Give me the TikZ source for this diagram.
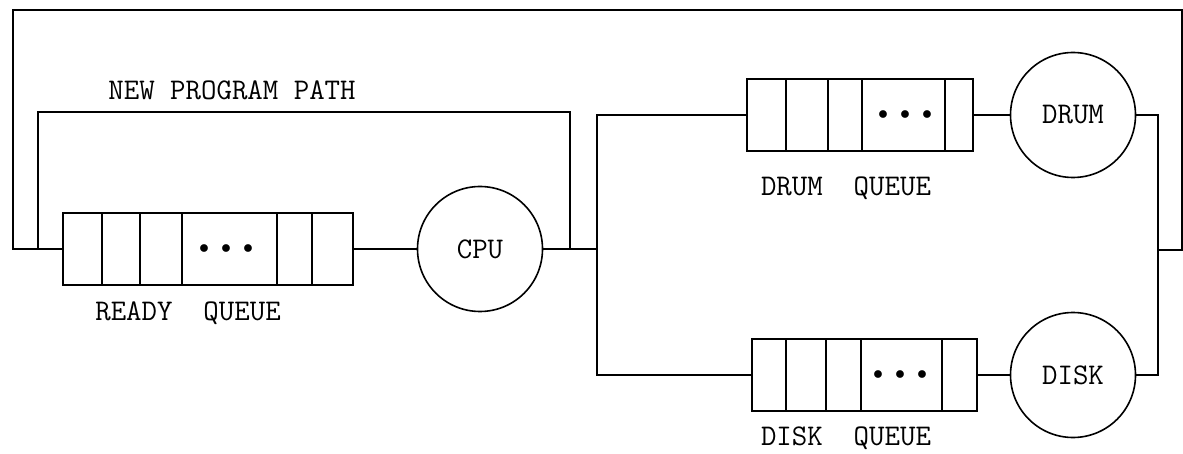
\documentclass[tikz,border=0pt]{standalone}
\usepackage{tikz}
\usetikzlibrary{shapes,positioning}
\tikzset{
  queue/.style={draw,line width=0.8pt,minimum height=36pt,inner sep=0pt},
  server/.style={draw,circle,line width=0.8pt,minimum size=62.5pt,inner sep=0pt,font=\ttfamily\fontsize{15}{17}\selectfont},
  lbl/.style={font=\ttfamily\fontsize{15}{17}\selectfont},
  dots/.style={font=\normalsize}
}
\newcommand{\qdots}{$\bullet$\hspace{6pt}$\bullet$\hspace{6pt}$\bullet$}
\begin{document}
\begin{tikzpicture}[x=0.5pt,y=-0.5pt,line width=0.8pt]
\useasboundingbox (0,0) rectangle (1183,454);
\node[queue,minimum width=145pt](rq) at (208,249){};
\foreach \d in {40,78,120,215,250}
  \draw([shift={(\d,0)}]rq.north west)--([shift={(\d,0)}]rq.south west);
\node[dots](rqd) at (226,249){\qdots};
\node[lbl](rql) at (188,313){READY~~QUEUE};
\node[server](cpu) at (480,249){CPU};
\node[queue,minimum width=113pt](dq) at (860,115){};
\foreach \d in {40,82,116,199}
  \draw([shift={(\d,0)}]dq.north west)--([shift={(\d,0)}]dq.south west);
\node[dots](dqd) at (905,115){\qdots};
\node[lbl](dql) at (846,188){DRUM~~QUEUE};
\node[server](drum) at (1073,115){DRUM};
\node[queue,minimum width=112.5pt](kq) at (864.5,375){};
\foreach \d in {35,75,110,191}
  \draw([shift={(\d,0)}]kq.north west)--([shift={(\d,0)}]kq.south west);
\node[dots](kqd) at (900,375){\qdots};
\node[lbl](kql) at (846,438){DISK~~QUEUE};
\node[server](disk) at (1073,375){DISK};
\node[lbl](npp) at (232,90){NEW PROGRAM PATH};
\coordinate(sp) at (597,249);
\coordinate(npr) at (570,249);
\coordinate(npl) at (38,249);
\coordinate(jn) at (1158,250);
\coordinate(ol) at (13,249);
\draw(rq)--(cpu);
\draw(cpu)--(sp);
\draw(dq.west)-|(sp)|-(kq.west);
\draw(dq)--(drum);
\draw(kq)--(disk);
\draw(drum.east)-|(jn)|-(disk.east);
\draw(jn)--(1182,250)--(1182,10)-|(ol)--(rq.west);
\draw(npr)--(570,112)-|(npl);
\end{tikzpicture}
\end{document}
